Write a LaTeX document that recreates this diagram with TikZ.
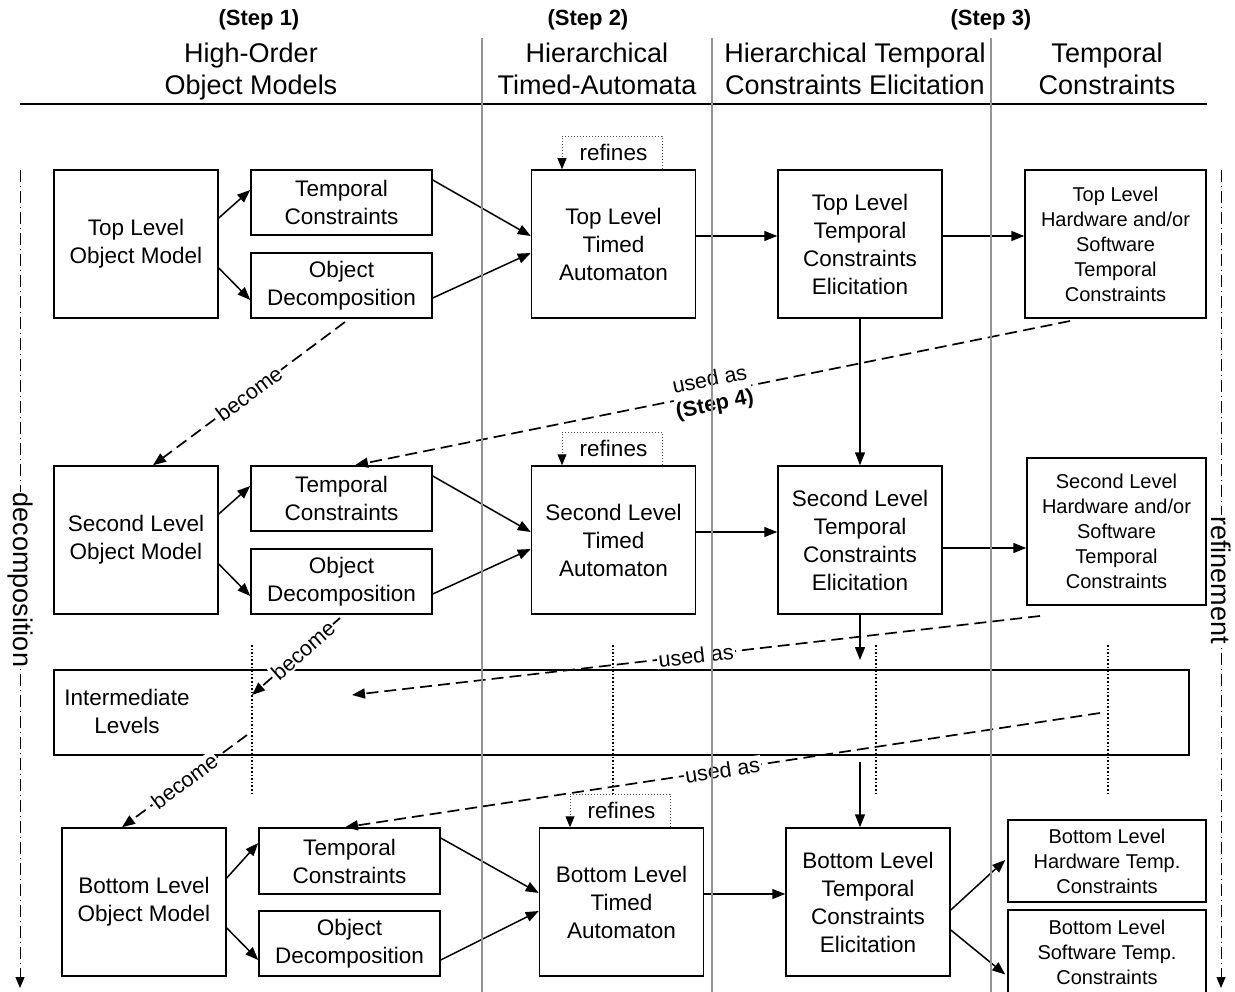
\documentclass[tikz,border=0pt]{standalone}
\usepackage{fontspec}
\setmainfont{Liberation Sans}
\usetikzlibrary{arrows.meta,calc}

% font sizes (1pt = one unit of the drawing)
\newcommand\boxfont{\fontsize{22.5}{28}\selectfont}
\newcommand\smallboxfont{\fontsize{20}{25}\selectfont}
\newcommand\headfont{\fontsize{27}{32}\selectfont}
\newcommand\stepfont{\fontsize{22}{26}\selectfont\bfseries}
\newcommand\labfont{\fontsize{21.5}{25}\selectfont}
\newcommand\sidefont{\fontsize{27}{30}\selectfont}

\tikzset{
  box/.style={draw, line width=1.5pt, fill=white, align=center, inner sep=2pt, font=\boxfont},
  bigbox/.style={box, minimum width=164pt, minimum height=148pt},
  smallbox/.style={box, minimum width=181pt, minimum height=65pt},
  hsbox/.style={box, font=\smallboxfont, minimum width=181pt, minimum height=148pt},
  conn/.style={-{Triangle[length=13pt,width=10pt]}, line width=1.5pt},
  dashconn/.style={conn, line width=1.7pt, dash pattern=on 12pt off 6pt},
  refine/.style={dotted, line width=1pt, draw=black!70,
                 -{Triangle[length=11pt,width=9pt,black]}},
  lab/.style={fill=white, inner sep=1.5pt, sloped, font=\labfont, align=center},
  sideline/.style={line width=1pt, dash pattern=on 12pt off 4pt on 1pt off 4pt,
                   -{Triangle[length=11pt,width=9pt]}},
  sidelab/.style={fill=white, inner sep=1pt, rotate=-90, font=\sidefont},
  colline/.style={line width=1.3pt, draw=black!42},
  vdots/.style={dotted, line width=1.6pt},
}

\begin{document}
\begin{tikzpicture}[x=1pt,y=-1pt]
\useasboundingbox (0,0) rectangle (1235,992);

% ---------- column headings ----------
\node[font=\stepfont] (s1) at (259,20) {(Step 1)};
\node[font=\stepfont] (s2) at (588,20) {(Step 2)};
\node[font=\stepfont] (s3) at (991,20) {(Step 3)};
\node[font=\headfont, align=center] (h1) at (251,72) {High-Order\\Object Models};
\node[font=\headfont, align=center] (h2) at (597,69) {Hierarchical\\Timed-Automata};
\node[font=\headfont, align=center] (h3) at (855,69) {Hierarchical Temporal\\Constraints Elicitation};
\node[font=\headfont, align=center] (h4) at (1107,69) {Temporal\\Constraints};
\draw[line width=1.5pt] (20,104) -- (1207,104);

% ---------- top level ----------
\node[bigbox] (tlom) at (136,244) {Top Level\\Object Model};
\node[smallbox] (tc1) at (341.5,202.5) {Temporal\\Constraints};
\node[smallbox] (od1) at (341.5,285.5) {Object\\Decomposition};
\node[bigbox] (ta1) at (613.5,244) {Top Level\\Timed\\Automaton};
\node[bigbox] (te1) at (860,244) {Top Level\\Temporal\\Constraints\\Elicitation};
\node[hsbox] (hs1) at (1115.5,244) {Top Level\\Hardware and/or\\Software\\Temporal\\Constraints};

% ---------- second level ----------
\node[bigbox] (slom) at (136,540) {Second Level\\Object Model};
\node[smallbox] (tc2) at (341.5,498.5) {Temporal\\Constraints};
\node[smallbox] (od2) at (341.5,581.5) {Object\\Decomposition};
\node[bigbox] (ta2) at (613.5,540) {Second Level\\Timed\\Automaton};
\node[bigbox] (te2) at (860,540) {Second Level\\Temporal\\Constraints\\Elicitation};
\node[hsbox, minimum width=179pt, minimum height=147pt] (hs2) at (1116.5,531.5)
  {Second Level\\Hardware and/or\\Software\\Temporal\\Constraints};

% ---------- intermediate levels ----------
\node[draw, line width=1.5pt, minimum width=1135pt, minimum height=85pt] (il) at (621.5,712.5) {};
\node[font=\boxfont, align=center] (iltext) at (127,711) {Intermediate\\Levels};
\draw[vdots] (252,645) -- (252,795);
\draw[vdots] (613,645) -- (613,795);
\draw[vdots] (876,645) -- (876,795);
\draw[vdots] (1108,645) -- (1108,795);

% ---------- bottom level ----------
\node[bigbox] (blom) at (144,902) {Bottom Level\\Object Model};
\node[smallbox, minimum height=66pt] (tc3) at (349.5,861) {Temporal\\Constraints};
\node[smallbox] (od3) at (349.5,943.5) {Object\\Decomposition};
\node[bigbox] (ta3) at (621.5,902) {Bottom Level\\Timed\\Automaton};
\node[bigbox] (te3) at (868,902) {Bottom Level\\Temporal\\Constraints\\Elicitation};
\node[box, font=\smallboxfont, minimum width=198pt, minimum height=82pt] (hw3) at (1107,861)
  {Bottom Level\\Hardware Temp.\\Constraints};
\node[box, font=\smallboxfont, minimum width=198pt, minimum height=85pt] (sw3) at (1107,952.5)
  {Bottom Level\\Software Temp.\\Constraints};

% ---------- solid connectors ----------
\foreach \r/\om/\tc/\od/\ta/\te in {1/tlom/tc1/od1/ta1/te1, 2/slom/tc2/od2/ta2/te2}{
  \draw[conn] ($(\om.east)+(0,-26)$) -- ($(\tc.west)+(0,-12.5)$);
  \draw[conn] ($(\om.east)+(0,24)$) -- ($(\od.west)+(0,14.5)$);
  \draw[conn] ($(\tc.east)+(0,-22.5)$) -- ($(\ta.west)+(0,-8)$);
  \draw[conn] ($(\od.east)+(0,12.5)$) -- ($(\ta.west)+(0,9)$);
  \draw[conn] ($(\ta.east)+(0,-8)$) -- ($(\te.west)+(0,-8)$);
}
\draw[conn] ($(te1.east)+(0,-8)$) -- ($(hs1.west)+(0,-8)$);
\draw[conn] ($(te2.east)+(0,8)$) -- ($(hs2.west)+(0,16.5)$);
\draw[conn] (te1.south) -- (te2.north);
\coordinate (ilin) at (860,660);
\coordinate (ilout) at (860,762);
\draw[conn] (te2.south) -- (ilin);
\draw[conn] (ilout) -- ($(te3.north)+(-8,0)$);

\draw[conn] ($(blom.east)+(0,-24)$) -- ($(tc3.west)+(0,-18)$);
\draw[conn] ($(blom.east)+(0,26)$) -- ($(od3.west)+(0,16.5)$);
\draw[conn] ($(tc3.east)+(0,-23)$) -- ($(ta3.west)+(0,-9)$);
\draw[conn] ($(od3.east)+(0,16.5)$) -- ($(ta3.west)+(0,9)$);
\draw[conn] ($(ta3.east)+(0,-8)$) -- ($(te3.west)+(0,-8)$);
\draw[conn] ($(te3.east)+(0,8)$) -- ($(hw3.west)+(-2,-1)$);
\draw[conn] ($(te3.east)+(0,28)$) -- ($(sw3.west)+(-2,22)$);

% ---------- refines loops ----------
\foreach \ta in {ta1,ta2,ta3}{
  \draw[refine] ($(\ta.north)+(48.5,0)$) -- ++(0,-33) -| ($(\ta.north)+(-51.5,0)$);
  \node[font=\boxfont] at ($(\ta.north)+(0,-17)$) {refines};
}

% ---------- dashed "become" / "used as" connectors ----------
\coordinate (b1s) at (345,322);
\draw[dashconn] (b1s) -- ($(slom.north)+(17,0)$) node[lab, pos=0.5] {become};
\coordinate (u1s) at (1070,321);
\draw[dashconn] (u1s) -- ($(tc2.north)+(13.5,0)$)
  node[lab, pos=0.5, inner sep=0pt] {used as\\\textbf{(Step 4)}};

\coordinate (b2s) at (340,618);
\coordinate (b2e) at (252,695);
\draw[dashconn] (b2s) -- (b2e) node[lab, pos=0.42] {become};
\coordinate (u2s) at (1040,616);
\coordinate (u2e) at (352,695);
\draw[dashconn] (u2s) -- (u2e) node[lab, pos=0.5] {used as};

\coordinate (b3s) at (247,735);
\draw[dashconn] (b3s) -- ($(blom.north)+(-22,0)$) node[lab, pos=0.5] {become};
\coordinate (u3s) at (1100,713);
\draw[dashconn] (u3s) -- ($(tc3.north)+(-4.5,0)$) node[lab, pos=0.5] {used as};

% ---------- side arrows ----------
\coordinate (ltop) at (20,170);
\coordinate (lbot) at (20,988);
\draw[sideline] (ltop) -- (lbot);
\node[sidelab] (dec) at (20,580) {decomposition};
\coordinate (rtop) at (1221,170);
\coordinate (rbot) at (1221,988);
\draw[sideline] (rtop) -- (rbot);
\node[sidelab] (ref) at (1221,580) {refinement};

% ---------- column separators ----------
\draw[colline] (482,38) -- (482,992);
\draw[colline] (712,38) -- (712,992);
\draw[colline] (991,38) -- (991,992);
\end{tikzpicture}
\end{document}
